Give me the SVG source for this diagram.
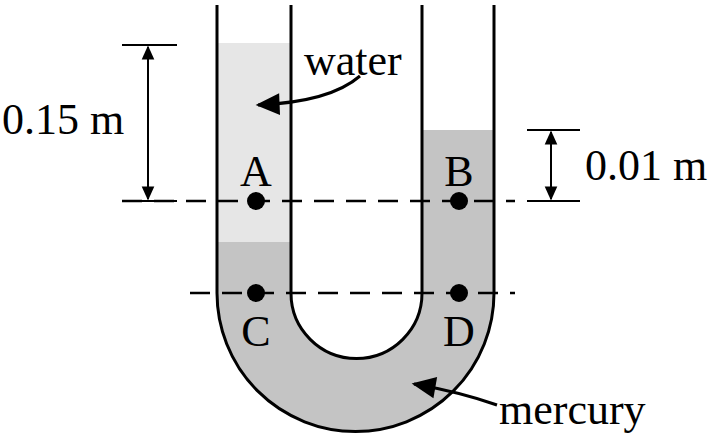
<svg xmlns="http://www.w3.org/2000/svg" width="716" height="444" viewBox="0 0 716 444">
<style>
.w{fill:none;stroke:#000;stroke-width:3}
.d{stroke:#000;stroke-width:2.5;stroke-dasharray:20 12}
.t{font-family:"Liberation Serif",serif;font-size:44px;fill:#000}
.dim{stroke:#000;stroke-width:2}
</style>
<defs>
<marker id="ah" viewBox="0 0 10 10" refX="9" refY="5" markerWidth="9" markerHeight="8" markerUnits="strokeWidth" orient="auto-start-reverse"><path d="M0,0.5 L10,5 L0,9.5 Z" fill="#000"/></marker>
<marker id="ab" viewBox="0 0 10 10" refX="9" refY="5" markerWidth="9" markerHeight="7" markerUnits="strokeWidth" orient="auto-start-reverse"><path d="M0,0.5 L10,5 L0,9.5 Z" fill="#000"/></marker>
</defs>
<g id="fluids">
<rect x="217" y="43" width="74" height="199" fill="#e6e6e6"/>
<path d="M217,242 H291 V293 A65.5,65.5 0 0 0 422,293 V130 H494 V293 A138.5,138.5 0 0 1 217,293 Z" fill="#c4c4c4"/>
</g>
<g id="tube">
<path class="w" d="M217,5 V293 A138.5,138.5 0 0 0 494,293 V5"/>
<path class="w" d="M291,5 V293 A65.5,65.5 0 0 0 422,293 V5"/>
</g>
<g id="connectors">
<line class="d" x1="122" y1="201" x2="515" y2="201"/>
<line class="d" x1="190" y1="293" x2="515" y2="293"/>
<line class="dim" x1="122" y1="45" x2="177" y2="45"/>
<line class="dim" x1="122" y1="201" x2="177" y2="201"/>
<line class="dim" x1="148" y1="47" x2="148" y2="199" stroke-width="3" marker-start="url(#ab)" marker-end="url(#ab)"/>
<line class="dim" x1="527" y1="130" x2="580" y2="130"/>
<line class="dim" x1="527" y1="201" x2="580" y2="201"/>
<line class="dim" x1="551" y1="132" x2="551" y2="199" stroke-width="3" marker-start="url(#ab)" marker-end="url(#ab)"/>
<path class="w" stroke-width="2" d="M360,76 Q330,102 258,105" marker-end="url(#ah)"/>
<path class="w" stroke-width="2" d="M497,405 Q460,392 414,384" marker-end="url(#ah)"/>
</g>
<g id="points">
<circle cx="256" cy="201" r="9"/><circle cx="459" cy="201" r="9"/>
<circle cx="256" cy="293" r="9"/><circle cx="459" cy="293" r="9"/>
</g>
<g id="labels" class="t">
<text x="256" y="186" text-anchor="middle">A</text>
<text x="459" y="186" text-anchor="middle">B</text>
<text x="256" y="346" text-anchor="middle">C</text>
<text x="459" y="346" text-anchor="middle">D</text>
<text x="304" y="75">water</text>
<text x="499" y="424">mercury</text>
<text x="2" y="134">0.15 m</text>
<text x="585" y="180">0.01 m</text>
</g>
</svg>
